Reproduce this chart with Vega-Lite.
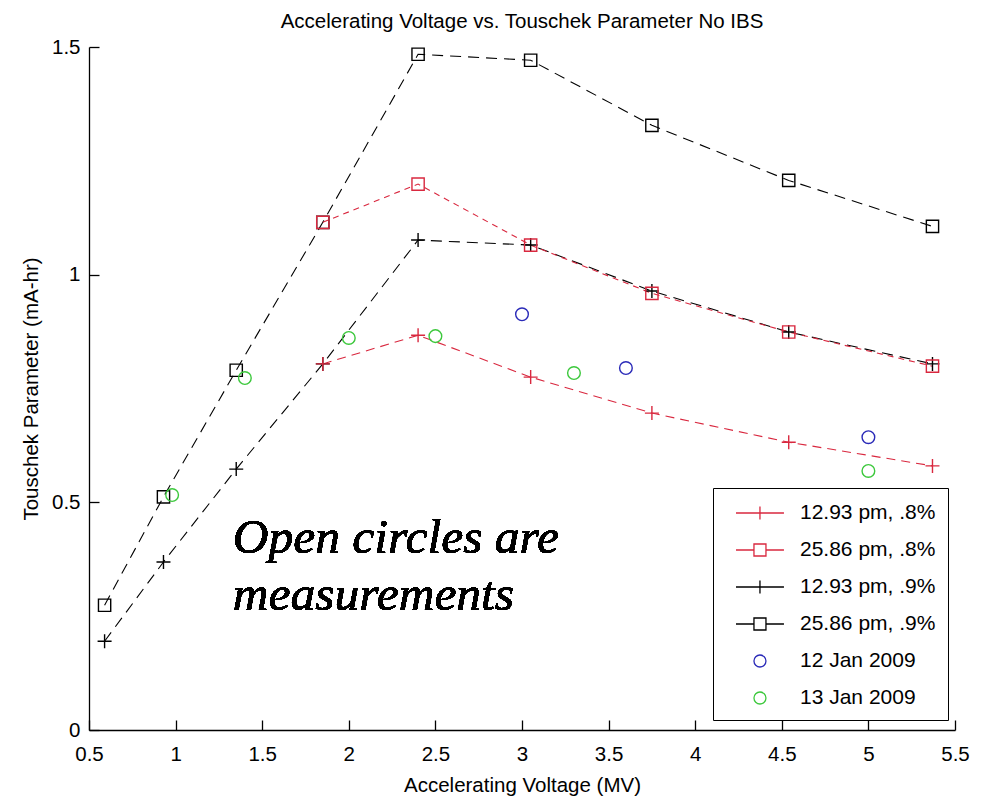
{
  "$schema": "https://vega.github.io/schema/vega-lite/v6.json",
  "autosize": {"type": "none"},
  "padding": {"left": 89, "top": 47, "right": 26, "bottom": 69},
  "width": 866,
  "height": 683,
  "background": "white",
  "title": {"text": "Accelerating Voltage vs. Touschek Parameter No IBS", "font": "Liberation Sans", "fontSize": 20.5, "fontWeight": "normal", "color": "#000", "frame": "group", "offset": 5},
  "config": {
    "view": {"stroke": null},
    "axis": {"grid": false, "domainColor": "#000", "domainWidth": 1.3, "tickColor": "#000", "tickWidth": 1.3, "tickSize": -10, "labelFont": "Liberation Sans", "labelFontSize": 20.5, "labelColor": "#000", "titleFont": "Liberation Sans", "titleFontSize": 20.5, "titleFontWeight": "normal", "titleColor": "#000", "format": "~g"}
  },
  "resolve": {"legend": {"color": "independent", "shape": "independent", "strokeDash": "independent", "strokeWidth": "independent"}},
  "data": {"values": [
    {"series": "25.86 pm, .9%", "v": 0.59, "t": 0.274},
    {"series": "25.86 pm, .9%", "v": 0.93, "t": 0.512},
    {"series": "25.86 pm, .9%", "v": 1.35, "t": 0.79},
    {"series": "25.86 pm, .9%", "v": 1.85, "t": 1.115},
    {"series": "25.86 pm, .9%", "v": 2.4, "t": 1.484},
    {"series": "25.86 pm, .9%", "v": 3.05, "t": 1.471},
    {"series": "25.86 pm, .9%", "v": 3.75, "t": 1.328},
    {"series": "25.86 pm, .9%", "v": 4.54, "t": 1.207},
    {"series": "25.86 pm, .9%", "v": 5.37, "t": 1.106},
    {"series": "12.93 pm, .9%", "v": 0.59, "t": 0.195},
    {"series": "12.93 pm, .9%", "v": 0.93, "t": 0.369},
    {"series": "12.93 pm, .9%", "v": 1.35, "t": 0.573},
    {"series": "12.93 pm, .9%", "v": 1.85, "t": 0.804},
    {"series": "12.93 pm, .9%", "v": 2.4, "t": 1.076},
    {"series": "12.93 pm, .9%", "v": 3.05, "t": 1.065},
    {"series": "12.93 pm, .9%", "v": 3.75, "t": 0.964},
    {"series": "12.93 pm, .9%", "v": 4.54, "t": 0.874},
    {"series": "12.93 pm, .9%", "v": 5.37, "t": 0.804},
    {"series": "25.86 pm, .8%", "v": 1.85, "t": 1.115},
    {"series": "25.86 pm, .8%", "v": 2.4, "t": 1.199},
    {"series": "25.86 pm, .8%", "v": 3.05, "t": 1.065},
    {"series": "25.86 pm, .8%", "v": 3.75, "t": 0.959},
    {"series": "25.86 pm, .8%", "v": 4.54, "t": 0.874},
    {"series": "25.86 pm, .8%", "v": 5.37, "t": 0.799},
    {"series": "12.93 pm, .8%", "v": 1.85, "t": 0.804},
    {"series": "12.93 pm, .8%", "v": 2.4, "t": 0.867},
    {"series": "12.93 pm, .8%", "v": 3.05, "t": 0.775},
    {"series": "12.93 pm, .8%", "v": 3.75, "t": 0.696},
    {"series": "12.93 pm, .8%", "v": 4.54, "t": 0.632},
    {"series": "12.93 pm, .8%", "v": 5.37, "t": 0.58},
    {"series": "12 Jan 2009", "v": 3.0, "t": 0.913},
    {"series": "12 Jan 2009", "v": 3.6, "t": 0.795},
    {"series": "12 Jan 2009", "v": 5.0, "t": 0.643},
    {"series": "13 Jan 2009", "v": 0.98, "t": 0.516},
    {"series": "13 Jan 2009", "v": 1.4, "t": 0.773},
    {"series": "13 Jan 2009", "v": 2.0, "t": 0.861},
    {"series": "13 Jan 2009", "v": 2.5, "t": 0.865},
    {"series": "13 Jan 2009", "v": 3.3, "t": 0.784},
    {"series": "13 Jan 2009", "v": 5.0, "t": 0.569}
  ]},
  "encoding": {
    "x": {"field": "v", "type": "quantitative", "scale": {"domain": [0.5, 5.5], "nice": false, "zero": false}, "axis": {"title": "Accelerating Voltage (MV)", "values": [0.5, 1, 1.5, 2, 2.5, 3, 3.5, 4, 4.5, 5, 5.5], "labelPadding": 24, "titlePadding": 11, "labelFlush": false}},
    "y": {"field": "t", "type": "quantitative", "scale": {"domain": [0, 1.5], "nice": false}, "axis": {"title": "Touschek Parameter (mA-hr)", "values": [0, 0.5, 1, 1.5], "labelPadding": 19, "titlePadding": 10, "labelFlush": false}}
  },
  "layer": [
    {
      "transform": [{"filter": "false"}],
      "mark": {"type": "point", "filled": false, "size": 576, "strokeWidth": 1.3, "opacity": 1},
      "encoding": {
        "color": {"field": "series", "type": "nominal", "scale": {"domain": ["12.93 pm, .8%", "25.86 pm, .8%", "12.93 pm, .9%", "25.86 pm, .9%", "12 Jan 2009", "13 Jan 2009"], "range": ["#d9283f", "#d9283f", "#000000", "#000000", "#2a2ab8", "#3cc83c"]}, "legend": {"title": null, "orient": "none", "legendX": 624, "legendY": 441, "padding": 12, "fillColor": "white", "strokeColor": "#000", "labelFont": "Liberation Sans", "labelFontSize": 21, "labelColor": "#000", "labelOffset": 49, "rowPadding": 14, "symbolSize": 576, "symbolStrokeWidth": 1.3}},
        "shape": {"field": "series", "type": "nominal", "scale": {"domain": ["12.93 pm, .8%", "25.86 pm, .8%", "12.93 pm, .9%", "25.86 pm, .9%", "12 Jan 2009", "13 Jan 2009"], "range": ["M-0.17,0H3.83M1.83,-0.55V0.55", "M-0.17,0H1.33M2.33,0H3.83M1.33,-0.5H2.33V0.5H1.33Z", "M-0.17,0H3.83M1.83,-0.55V0.55", "M-0.17,0H1.33M2.33,0H3.83M1.33,-0.5H2.33V0.5H1.33Z", "M2.33,0A0.5,0.5,0,1,1,1.33,0A0.5,0.5,0,1,1,2.33,0Z", "M2.33,0A0.5,0.5,0,1,1,1.33,0A0.5,0.5,0,1,1,2.33,0Z"]}, "legend": {"title": null, "orient": "none", "legendX": 624, "legendY": 441, "padding": 12, "fillColor": "white", "strokeColor": "#000", "labelFont": "Liberation Sans", "labelFontSize": 21, "labelColor": "#000", "labelOffset": 49, "rowPadding": 14, "symbolSize": 576, "symbolStrokeWidth": 1.3}}
      }
    },
    {
      "transform": [{"filter": {"field": "series", "oneOf": ["12.93 pm, .8%", "25.86 pm, .8%", "12.93 pm, .9%", "25.86 pm, .9%"]}}],
      "mark": {"type": "line"},
      "encoding": {
        "color": {"field": "series", "type": "nominal", "legend": null},
        "order": {"field": "v", "type": "quantitative"},
        "strokeDash": {"field": "series", "type": "nominal", "scale": {"domain": ["12.93 pm, .8%", "25.86 pm, .8%", "12.93 pm, .9%", "25.86 pm, .9%"], "range": [[9, 6], [6, 5], [11, 7], [11, 7]]}, "legend": null},
        "strokeWidth": {"field": "series", "type": "nominal", "scale": {"domain": ["12.93 pm, .8%", "25.86 pm, .8%", "12.93 pm, .9%", "25.86 pm, .9%"], "range": [1.1, 1.1, 1.3, 1.3]}, "legend": null}
      }
    },
    {
      "transform": [{"filter": {"field": "series", "oneOf": ["12.93 pm, .8%", "12.93 pm, .9%"]}}],
      "mark": {"type": "point", "shape": "M-1,0H1M0,-1V1", "filled": false, "size": 196, "strokeWidth": 1.4, "opacity": 1},
      "encoding": {"color": {"field": "series", "type": "nominal", "legend": null}}
    },
    {
      "transform": [{"filter": {"field": "series", "oneOf": ["25.86 pm, .8%", "25.86 pm, .9%"]}}],
      "mark": {"type": "point", "shape": "square", "filled": false, "size": 150, "strokeWidth": 1.4, "opacity": 1},
      "encoding": {"color": {"field": "series", "type": "nominal", "legend": null}}
    },
    {
      "transform": [{"filter": {"field": "series", "oneOf": ["12 Jan 2009", "13 Jan 2009"]}}],
      "mark": {"type": "point", "shape": "circle", "filled": false, "size": 160, "strokeWidth": 1.4, "opacity": 1},
      "encoding": {"color": {"field": "series", "type": "nominal", "legend": null}}
    },
    {
      "mark": {"type": "text", "font": "Liberation Serif", "fontStyle": "italic", "fontSize": 49.5, "align": "left", "baseline": "alphabetic", "lineBreak": "\n", "lineHeight": 57, "color": "#000"},
      "encoding": {
        "x": {"datum": 1.33},
        "y": {"datum": 0.389},
        "text": {"value": "Open circles are\nmeasurements"}
      }
    }
  ]
}
